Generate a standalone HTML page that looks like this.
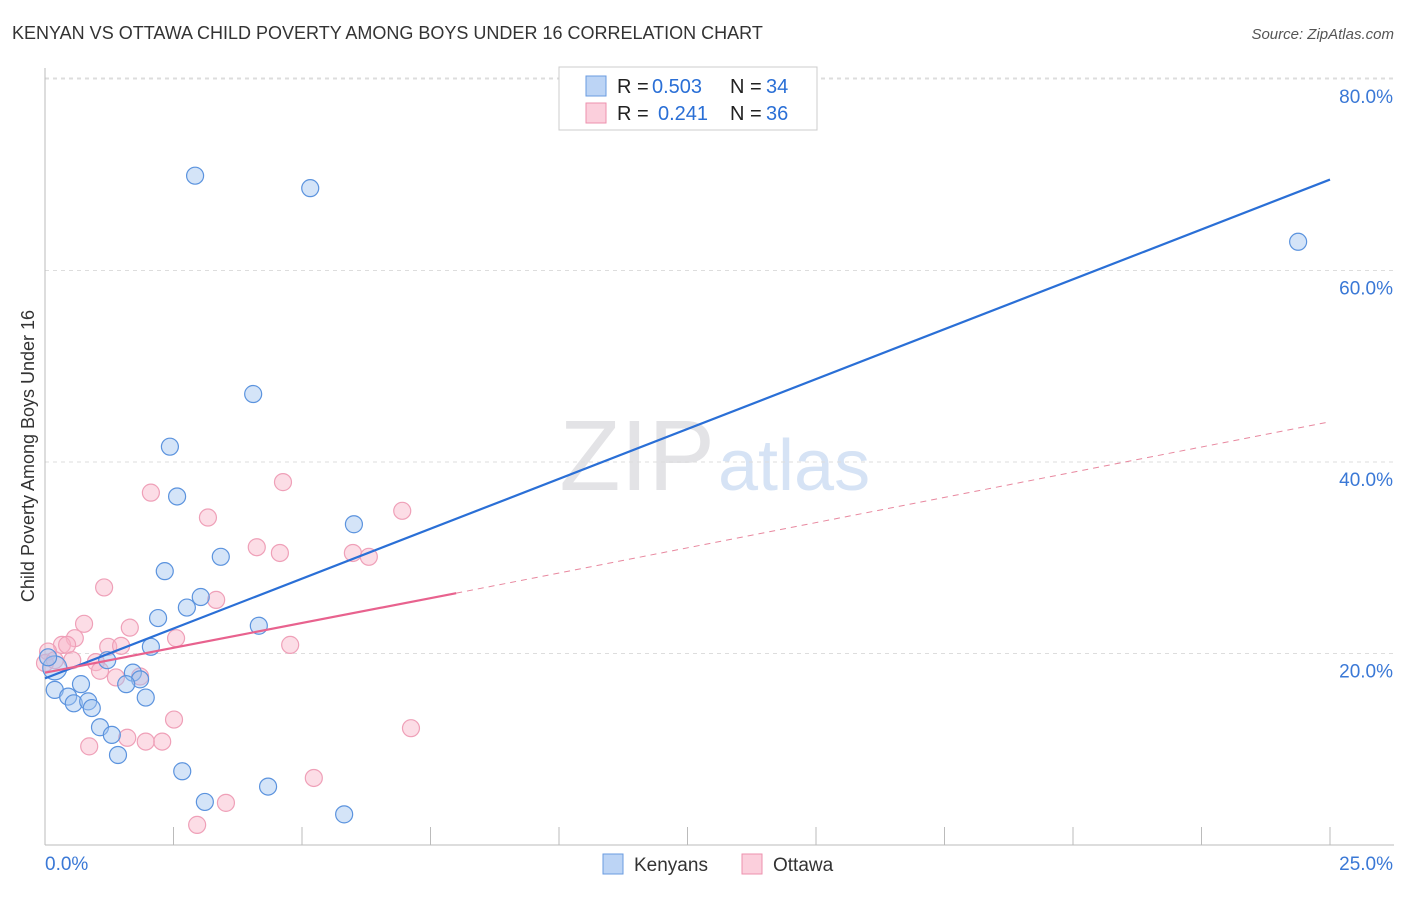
<!DOCTYPE html>
<html><head><meta charset="utf-8"><style>
body{margin:0;background:#fff;font-family:"Liberation Sans",sans-serif;}
svg text{font-family:"Liberation Sans",sans-serif;}
</style></head><body>
<svg id="c" width="1406" height="892">
<text x="12" y="39" font-size="18" fill="#333">KENYAN VS OTTAWA CHILD POVERTY AMONG BOYS UNDER 16 CORRELATION CHART</text>
<text x="1394" y="39" font-size="15" fill="#555" text-anchor="end" font-style="italic">Source: ZipAtlas.com</text>
<text x="715" y="490" font-size="100" fill="#e3e3e6" text-anchor="end" font-family="Liberation Serif">ZIP</text>
<text x="718" y="490" font-size="72" fill="#d6e3f5">atlas</text>
<text transform="translate(34,456) rotate(-90)" font-size="18" fill="#333" text-anchor="middle">Child Poverty Among Boys Under 16</text>
<g id="grid"></g><g id="ax"></g><g id="pts"></g><g id="lines"></g>
<g>
<rect x="559" y="67" width="258" height="63" fill="#fff" stroke="#ccc"/>
<rect x="586" y="76" width="20" height="20" fill="#bcd4f5" stroke="#6a9be0"/>
<rect x="586" y="103" width="20" height="20" fill="#fbcfdc" stroke="#ee91ae"/>
<text x="617" y="93" font-size="20" fill="#222">R =</text>
<text x="652" y="93" font-size="20" fill="#2a6fd6">0.503</text>
<text x="730" y="93" font-size="20" fill="#222">N =</text>
<text x="766" y="93" font-size="20" fill="#2a6fd6">34</text>
<text x="617" y="120" font-size="20" fill="#222">R =</text>
<text x="658" y="120" font-size="20" fill="#2a6fd6">0.241</text>
<text x="730" y="120" font-size="20" fill="#222">N =</text>
<text x="766" y="120" font-size="20" fill="#2a6fd6">36</text>
</g>
<g>
<rect x="603" y="854" width="20" height="20" fill="#bcd4f5" stroke="#6a9be0"/>
<text x="634" y="871" font-size="19" fill="#333">Kenyans</text>
<rect x="742" y="854" width="20" height="20" fill="#fbcfdc" stroke="#ee91ae"/>
<text x="773" y="871" font-size="19" fill="#333">Ottawa</text>
</g>
</svg>
<script>
const blueX=[2.92,5.16,24.38,4.05,2.43,2.57,6.01,3.42,2.33,3.03,2.76,2.20,4.16,2.06,1.21,0.19,0.06,1.71,1.85,1.58,0.70,0.19,0.45,0.56,0.84,0.91,1.96,1.07,1.30,1.42,2.67,3.11,4.34,5.82];
const blueY=[69.9,68.6,63.0,47.1,41.6,36.4,33.5,30.1,28.6,25.9,24.8,23.7,22.9,20.7,19.3,18.5,19.6,18.0,17.3,16.8,16.8,16.2,15.5,14.8,15.0,14.3,15.4,12.3,11.5,9.4,7.7,4.5,6.1,3.2];
const pinkX=[2.06,4.63,3.17,6.95,4.12,4.57,5.99,6.30,1.15,3.33,0.76,1.65,0.58,0.33,2.55,0.43,4.77,1.23,1.48,0.06,0.99,0.00,1.07,1.85,1.38,0.53,2.51,7.12,0.86,1.60,2.28,1.96,5.23,3.52,2.96,0.19];
const pinkY=[36.8,37.9,34.2,34.9,31.1,30.5,30.5,30.1,26.9,25.6,23.1,22.7,21.6,20.9,21.6,20.9,20.9,20.7,20.8,20.2,19.1,19.0,18.2,17.6,17.5,19.3,13.1,12.2,10.3,11.2,10.8,10.8,7.0,4.4,2.1,19.3];
const yTicks=[20,40,60,80];
const xTickVals=[0,2.5,5,7.5,10,12.5,15,17.5,20,22.5,25];
const blueTrend=[17.4,69.5];
const pinkTrend=[18.0,26.3,44.2];
const pinkSolidEnd=8.0;
const NS="http://www.w3.org/2000/svg";
const X=v=>45+v/25*1285, Y=v=>845-v*9.575;
function mk(t,a,p){const e=document.createElementNS(NS,t);for(const k in a)e.setAttribute(k,a[k]);p.appendChild(e);return e;}
const grid=document.getElementById('grid'),ax=document.getElementById('ax'),pts=document.getElementById('pts'),ln=document.getElementById('lines');
yTicks.forEach(v=>{const l=mk('line',{x1:45,x2:1394,y1:Y(v),y2:Y(v),stroke:'#ddd','stroke-dasharray':'4,4'},grid);


const t=mk('text',{x:1393,y:Y(v)+24,'font-size':19,fill:'#3a78d6','text-anchor':'end'},ax);t.textContent=v.toFixed(1)+'%';

});
mk('line',{x1:45,x2:45,y1:68,y2:845,stroke:'#bbb'},ax);
mk('line',{x1:45,x2:1394,y1:845,y2:845,stroke:'#bbb'},ax);
mk('line',{x1:45,x2:1394,y1:78,y2:78,stroke:'#ddd','stroke-dasharray':'4,4'},grid);
xTickVals.forEach(v=>{const l=mk('line',{x1:X(v),x2:X(v),y1:827,y2:845,stroke:'#bbb'},ax);

});
let t0=mk('text',{x:45,y:870,'font-size':19,fill:'#3a78d6'},ax);t0.textContent='0.0%';


let t1=mk('text',{x:1393,y:870,'font-size':19,fill:'#3a78d6','text-anchor':'end'},ax);t1.textContent='25.0%';


pinkX.forEach((v,i)=>{const c=mk('circle',{cx:X(v),cy:Y(pinkY[i]),r:8.5,fill:'rgba(248,180,200,0.45)',stroke:'#efa0b8','stroke-width':1.2},pts);

});
blueX.forEach((v,i)=>{const c=mk('circle',{cx:X(v),cy:Y(blueY[i]),r:(i==15?12:8.5),fill:'rgba(160,195,240,0.45)',stroke:'#5b93de','stroke-width':1.2},pts);

});
const bl=mk('line',{x1:X(0),y1:Y(blueTrend[0]),x2:X(25),y2:Y(blueTrend[1]),stroke:'#2a6fd6','stroke-width':2.2},ln);


const pl=mk('line',{x1:X(0),y1:Y(pinkTrend[0]),x2:X(pinkSolidEnd),y2:Y(pinkTrend[1]),stroke:'#e8628e','stroke-width':2.2},ln);


const pd=mk('line',{x1:X(pinkSolidEnd),y1:Y(pinkTrend[1]),x2:X(25),y2:Y(pinkTrend[2]),stroke:'#e8889f','stroke-width':1,'stroke-dasharray':'6,5'},ln);


</script>
</body></html>
